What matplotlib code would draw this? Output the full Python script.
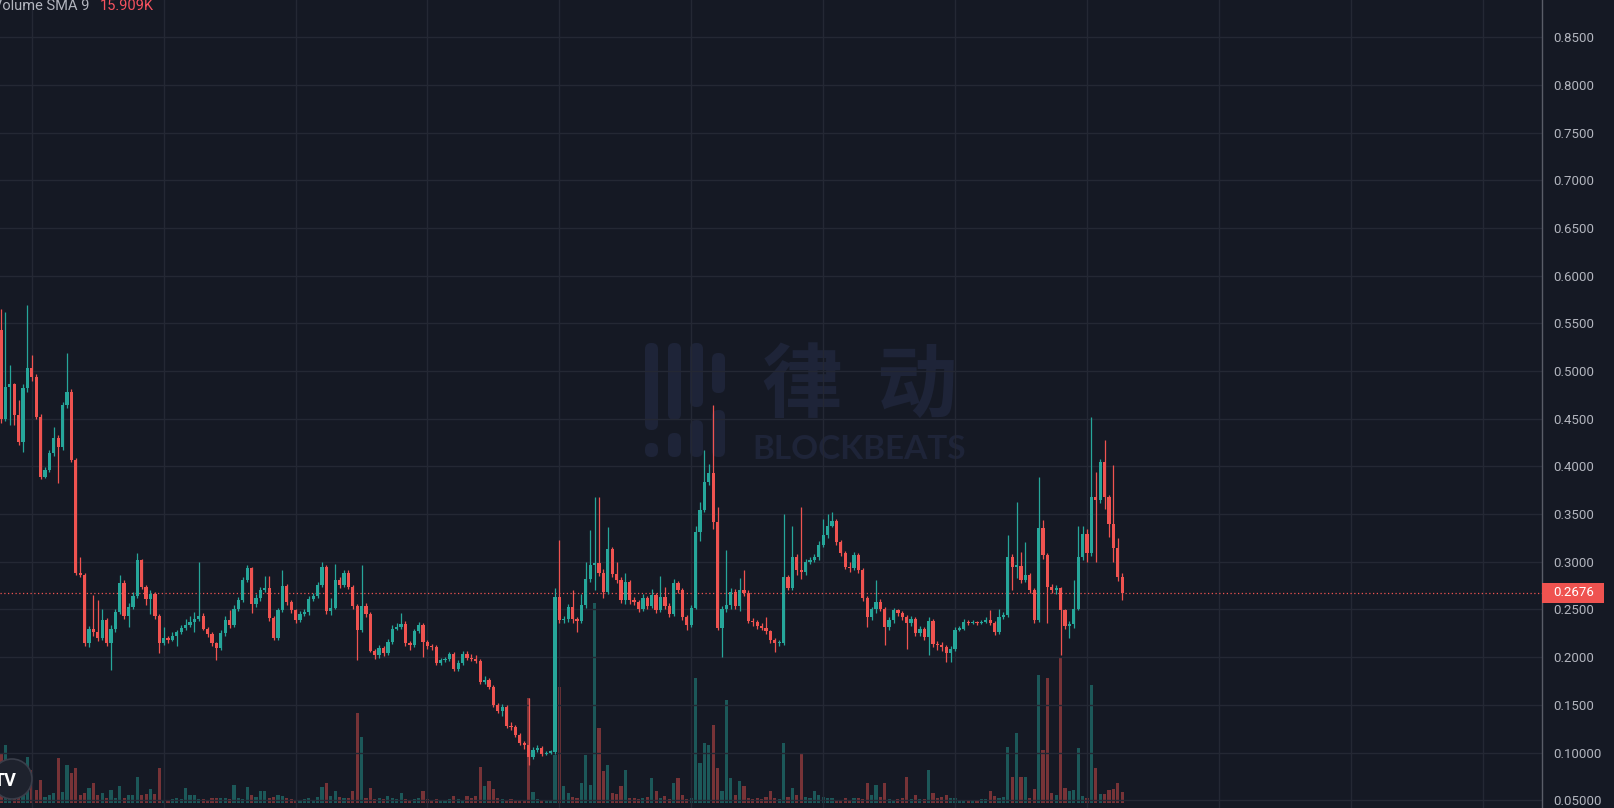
import matplotlib
matplotlib.use("Agg")
import matplotlib.pyplot as plt
from matplotlib.patches import Rectangle, FancyBboxPatch, Circle
from matplotlib.transforms import IdentityTransform
import numpy as np

# candle closes, one per bar (open = previous close)
first_open = 0.543
closes = [
    0.450, 0.483, 0.486, 0.454, 0.426, 0.482, 0.503, 0.494, 0.452, 0.389,
    0.396, 0.414, 0.430, 0.420, 0.464, 0.478, 0.407, 0.288, 0.286, 0.215,
    0.230, 0.226, 0.220, 0.239, 0.215, 0.230, 0.247, 0.278, 0.243, 0.253,
    0.264, 0.302, 0.274, 0.261, 0.266, 0.243, 0.215, 0.220, 0.218, 0.222,
    0.226, 0.231, 0.234, 0.237, 0.240, 0.243, 0.230, 0.224, 0.215, 0.210,
    0.225, 0.239, 0.234, 0.250, 0.260, 0.281, 0.293, 0.256, 0.262, 0.270,
    0.273, 0.241, 0.220, 0.249, 0.275, 0.258, 0.249, 0.239, 0.245, 0.247,
    0.261, 0.264, 0.276, 0.295, 0.248, 0.252, 0.281, 0.276, 0.288, 0.274,
    0.254, 0.229, 0.254, 0.245, 0.207, 0.202, 0.210, 0.204, 0.216, 0.230,
    0.232, 0.235, 0.215, 0.213, 0.227, 0.234, 0.216, 0.212, 0.211, 0.194,
    0.197, 0.198, 0.203, 0.188, 0.194, 0.203, 0.199, 0.198, 0.196, 0.174,
    0.176, 0.169, 0.150, 0.144, 0.148, 0.128, 0.127, 0.118, 0.110, 0.108,
    0.095, 0.103, 0.105, 0.098, 0.100, 0.101, 0.263, 0.239, 0.240, 0.253,
    0.240, 0.238, 0.255, 0.282, 0.297, 0.299, 0.288, 0.268, 0.313, 0.287,
    0.281, 0.260, 0.279, 0.260, 0.258, 0.250, 0.262, 0.254, 0.265, 0.249,
    0.263, 0.254, 0.245, 0.278, 0.270, 0.242, 0.234, 0.252, 0.331, 0.354,
    0.384, 0.393, 0.342, 0.231, 0.250, 0.255, 0.268, 0.254, 0.270, 0.267,
    0.238, 0.237, 0.233, 0.231, 0.227, 0.218, 0.215, 0.215, 0.284, 0.273,
    0.305, 0.291, 0.289, 0.300, 0.302, 0.305, 0.318, 0.328, 0.338, 0.343,
    0.321, 0.309, 0.295, 0.293, 0.307, 0.291, 0.262, 0.242, 0.250, 0.258,
    0.251, 0.232, 0.239, 0.249, 0.246, 0.242, 0.236, 0.240, 0.225, 0.230,
    0.221, 0.238, 0.214, 0.213, 0.211, 0.204, 0.209, 0.229, 0.230, 0.237,
    0.236, 0.237, 0.236, 0.237, 0.239, 0.236, 0.226, 0.242, 0.244, 0.305,
    0.295, 0.296, 0.281, 0.286, 0.270, 0.239, 0.335, 0.307, 0.274, 0.270,
    0.272, 0.249, 0.233, 0.235, 0.251, 0.305, 0.329, 0.309, 0.368, 0.365,
    0.405, 0.368, 0.340, 0.314, 0.284, 0.2676,
]
highs = [
    0.565, 0.562, 0.506, 0.487, 0.470, 0.486, 0.569, 0.517, 0.497, 0.455,
    0.399, 0.417, 0.441, 0.433, 0.468, 0.519, 0.481, 0.409, 0.305, 0.288,
    0.233, 0.265, 0.260, 0.250, 0.241, 0.234, 0.250, 0.286, 0.281, 0.257,
    0.268, 0.309, 0.303, 0.276, 0.270, 0.268, 0.245, 0.232, 0.222, 0.226,
    0.229, 0.234, 0.240, 0.243, 0.247, 0.300, 0.246, 0.232, 0.226, 0.216,
    0.228, 0.243, 0.249, 0.255, 0.263, 0.284, 0.297, 0.295, 0.266, 0.274,
    0.285, 0.285, 0.243, 0.252, 0.291, 0.277, 0.260, 0.251, 0.248, 0.250,
    0.264, 0.267, 0.279, 0.300, 0.297, 0.262, 0.298, 0.284, 0.291, 0.291,
    0.276, 0.256, 0.297, 0.257, 0.247, 0.209, 0.213, 0.212, 0.219, 0.234,
    0.236, 0.246, 0.238, 0.217, 0.230, 0.237, 0.236, 0.218, 0.214, 0.213,
    0.199, 0.200, 0.205, 0.205, 0.197, 0.206, 0.206, 0.203, 0.202, 0.198,
    0.180, 0.178, 0.171, 0.152, 0.151, 0.150, 0.132, 0.129, 0.120, 0.112,
    0.157, 0.106, 0.108, 0.107, 0.102, 0.103, 0.273, 0.323, 0.243, 0.256,
    0.270, 0.242, 0.266, 0.300, 0.333, 0.368, 0.368, 0.292, 0.336, 0.315,
    0.300, 0.284, 0.288, 0.281, 0.263, 0.260, 0.266, 0.264, 0.271, 0.267,
    0.285, 0.274, 0.257, 0.282, 0.280, 0.272, 0.244, 0.255, 0.338, 0.363,
    0.417, 0.403, 0.464, 0.357, 0.254, 0.312, 0.272, 0.271, 0.283, 0.291,
    0.270, 0.241, 0.239, 0.236, 0.242, 0.229, 0.220, 0.218, 0.350, 0.286,
    0.337, 0.308, 0.357, 0.303, 0.305, 0.308, 0.322, 0.345, 0.350, 0.352,
    0.345, 0.323, 0.311, 0.300, 0.310, 0.309, 0.293, 0.264, 0.253, 0.281,
    0.261, 0.253, 0.242, 0.252, 0.251, 0.248, 0.244, 0.243, 0.242, 0.233,
    0.232, 0.242, 0.240, 0.217, 0.216, 0.213, 0.212, 0.232, 0.233, 0.240,
    0.239, 0.239, 0.238, 0.239, 0.242, 0.249, 0.238, 0.251, 0.247, 0.328,
    0.308, 0.363, 0.310, 0.321, 0.288, 0.272, 0.389, 0.344, 0.309, 0.277,
    0.276, 0.274, 0.251, 0.238, 0.281, 0.337, 0.337, 0.334, 0.452, 0.394,
    0.408, 0.428, 0.370, 0.401, 0.325, 0.288,
]
lows = [
    0.445, 0.448, 0.443, 0.443, 0.422, 0.415, 0.478, 0.490, 0.450, 0.387,
    0.388, 0.394, 0.411, 0.383, 0.417, 0.461, 0.405, 0.286, 0.284, 0.212,
    0.211, 0.222, 0.217, 0.218, 0.212, 0.187, 0.226, 0.245, 0.240, 0.232,
    0.250, 0.262, 0.271, 0.255, 0.245, 0.240, 0.204, 0.213, 0.215, 0.217,
    0.212, 0.224, 0.229, 0.232, 0.226, 0.238, 0.228, 0.221, 0.212, 0.197,
    0.208, 0.222, 0.231, 0.232, 0.248, 0.258, 0.279, 0.246, 0.253, 0.259,
    0.268, 0.238, 0.218, 0.218, 0.247, 0.255, 0.246, 0.236, 0.237, 0.243,
    0.244, 0.259, 0.262, 0.274, 0.245, 0.244, 0.250, 0.273, 0.274, 0.271,
    0.251, 0.197, 0.226, 0.242, 0.205, 0.198, 0.199, 0.201, 0.202, 0.214,
    0.228, 0.230, 0.212, 0.208, 0.211, 0.225, 0.200, 0.209, 0.208, 0.192,
    0.192, 0.195, 0.196, 0.185, 0.186, 0.192, 0.197, 0.196, 0.194, 0.172,
    0.172, 0.167, 0.148, 0.142, 0.138, 0.126, 0.124, 0.116, 0.108, 0.104,
    0.087, 0.093, 0.101, 0.096, 0.097, 0.099, 0.099, 0.236, 0.236, 0.237,
    0.236, 0.226, 0.236, 0.252, 0.279, 0.270, 0.285, 0.262, 0.266, 0.284,
    0.278, 0.257, 0.256, 0.256, 0.255, 0.247, 0.248, 0.251, 0.252, 0.246,
    0.247, 0.251, 0.242, 0.243, 0.267, 0.239, 0.228, 0.232, 0.250, 0.322,
    0.352, 0.380, 0.334, 0.229, 0.200, 0.247, 0.250, 0.250, 0.248, 0.264,
    0.236, 0.233, 0.230, 0.228, 0.224, 0.215, 0.205, 0.212, 0.213, 0.270,
    0.270, 0.286, 0.282, 0.286, 0.298, 0.300, 0.302, 0.315, 0.325, 0.336,
    0.318, 0.306, 0.292, 0.289, 0.291, 0.288, 0.259, 0.232, 0.239, 0.246,
    0.248, 0.213, 0.229, 0.236, 0.243, 0.239, 0.209, 0.233, 0.222, 0.222,
    0.218, 0.202, 0.211, 0.208, 0.207, 0.195, 0.195, 0.207, 0.227, 0.228,
    0.234, 0.235, 0.234, 0.235, 0.236, 0.234, 0.223, 0.224, 0.240, 0.242,
    0.270, 0.283, 0.278, 0.279, 0.267, 0.236, 0.237, 0.303, 0.236, 0.267,
    0.266, 0.202, 0.230, 0.220, 0.231, 0.249, 0.302, 0.300, 0.306, 0.300,
    0.362, 0.355, 0.326, 0.300, 0.280, 0.260,
]
# volume per bar (thousands, chart scale)
volumes = [
    50, 58, 20, 13, 16, 23, 46, 33, 13, 23, 6, 8, 10, 45, 11, 38, 30, 35, 8, 10,
    15, 20, 8, 10, 5, 13, 5, 17, 5, 8, 8, 26, 8, 9, 14, 9, 35, 3, 3, 4,
    5, 4, 15, 8, 8, 4, 4, 3, 5, 5, 5, 5, 4, 18, 5, 4, 16, 8, 6, 12,
    12, 5, 6, 8, 7, 5, 4, 3, 3, 4, 5, 3, 6, 16, 20, 7, 12, 6, 5, 5,
    12, 90, 66, 5, 15, 4, 5, 4, 7, 5, 4, 10, 4, 3, 4, 5, 12, 4, 3, 4,
    3, 3, 4, 7, 4, 3, 7, 5, 7, 36, 17, 22, 14, 5, 4, 3, 4, 3, 3, 3,
    105, 11, 4, 3, 3, 3, 48, 116, 17, 10, 6, 5, 20, 48, 18, 200, 75, 32, 38, 10,
    9, 17, 33, 5, 5, 4, 5, 6, 25, 12, 5, 7, 4, 20, 25, 8, 4, 5, 125, 40,
    60, 58, 78, 35, 12, 103, 25, 8, 22, 17, 5, 4, 5, 4, 6, 12, 5, 4, 60, 6,
    15, 8, 50, 6, 5, 12, 8, 6, 5, 5, 3, 3, 5, 3, 5, 5, 4, 20, 8, 18,
    6, 20, 4, 3, 4, 5, 26, 4, 8, 4, 4, 33, 10, 5, 6, 8, 5, 5, 3, 3,
    3, 3, 3, 4, 4, 12, 7, 5, 6, 56, 26, 70, 26, 26, 5, 14, 128, 53, 125, 10,
    8, 145, 15, 12, 13, 55, 7, 5, 118, 35, 9, 9, 13, 14, 20, 11,
]
price_ticks = [0.05, 0.10, 0.15, 0.20, 0.25, 0.30, 0.35, 0.40, 0.45,
               0.50, 0.55, 0.60, 0.65, 0.70, 0.75, 0.80, 0.85]
price_labels = ["0.05000", "0.10000", "0.1500", "0.2000", "0.2500", "0.3000",
                "0.3500", "0.4000", "0.4500", "0.5000", "0.5500", "0.6000",
                "0.6500", "0.7000", "0.7500", "0.8000", "0.8500"]
time_grid = [7, 37, 67, 97, 127, 157, 187, 217, 247, 277, 307, 337]
last_price = 0.2676

BG = "#151924"
GRID = "#242834"
UP = "#26a69a"
DOWN = "#ef5350"
TXT = "#b2b5be"
MARK = "#1e2438"

W, H = 1614, 808
plt.rcParams["font.family"] = ["Roboto", "Noto Sans CJK SC", "DejaVu Sans"]

fig = plt.figure(figsize=(W / 100, H / 100), dpi=100, facecolor=BG)
rect = [0, 0, 1542 / W, 1]

opens = [first_open] + closes[:-1]
idx = np.arange(len(closes))
o = np.array(opens)
c = np.array(closes)
up = c >= o
cols = np.where(up, UP, DOWN)

# watermark logo, drawn under everything
bars = [(645, 343, 430), (645, 443, 457), (668, 343, 420), (668, 433, 457),
        (690, 343, 407), (690, 420, 457), (712, 353, 393), (712, 410, 457)]
for x0, t, b in bars:
    p = FancyBboxPatch((x0 + 6, H - b + 6), 1, b - t - 12,
                       boxstyle="round,pad=6", transform=IdentityTransform(),
                       facecolor=MARK, edgecolor="none", zorder=-5)
    fig.patches.append(p)
for ch, cx in [("律", 802), ("动", 916)]:
    fig.text(cx / W, 1 - 387 / H, ch, color=MARK, fontsize=58,
             family=["Noto Sans CJK SC"], weight="bold",
             ha="center", va="center", zorder=-5)
fig.text(859 / W, 1 - 449 / H, "BLOCKBEATS", color=MARK, fontsize=24,
         family=["Lato"], weight="bold", ha="center", va="center", zorder=-5)

# volume pane
axv = fig.add_axes(rect, zorder=1)
axv.patch.set_visible(False)
axv.bar(idx, volumes, width=0.72, color=cols, alpha=0.45, linewidth=0)
axv.set_ylim(-5, H - 5)
axv.set_xlim(-0.23, 350.5)
axv.axis("off")

# price pane
ax = fig.add_axes(rect, zorder=2)
ax.patch.set_visible(False)
ax.set_xlim(-0.23, 350.5)
ax.set_ylim(0.0419, 0.8889)

for t in price_ticks:
    ax.axhline(t, color=GRID, lw=1.0, zorder=0)
for g in time_grid:
    ax.axvline(g, color=GRID, lw=1.0, zorder=0)

lo = np.minimum(np.array(lows), np.minimum(o, c))
hi = np.maximum(np.array(highs), np.maximum(o, c))
ax.vlines(idx, lo, hi, colors=cols, lw=0.9, zorder=3)
body = np.maximum(np.abs(c - o), 0.0012)
ax.bar(idx, body, bottom=np.minimum(o, c), width=0.74, color=cols,
       linewidth=0, zorder=4)

ax.axhline(last_price, color=DOWN, lw=0.9, ls=(0, (1, 2)), zorder=2)

ax.set_xticks([])
ax.yaxis.tick_right()
ax.set_yticks(price_ticks)
ax.set_yticklabels(price_labels)
ax.tick_params(axis="y", length=0, pad=8, labelcolor=TXT, labelsize=9.5)
for s in ["top", "left", "bottom"]:
    ax.spines[s].set_visible(False)
ax.spines["right"].set_color("#5a5d68")
ax.spines["right"].set_linewidth(1.0)

# last price tag on the axis
fig.patches.append(Rectangle((1542 / W, 1 - 603 / H), 62 / W, 20 / H,
                             transform=fig.transFigure, facecolor=DOWN,
                             edgecolor="none", zorder=5))
fig.text(1553 / W, 1 - 593 / H, "%.4f" % last_price, color="white",
         fontsize=9.5, va="center", ha="left", zorder=6)

# legend header (cut at the top edge, as in the source)
fig.text(-7 / W, 1 - 10 / H, "Volume SMA 9", color=TXT, fontsize=10.5,
         va="baseline", ha="left")
fig.text(100 / W, 1 - 10 / H, "15.909K", color="#f7525f", fontsize=10.5,
         va="baseline", ha="left")

# TV badge bottom-left
fig.patches.append(Circle((12, H - 779), 20, transform=IdentityTransform(),
                          facecolor="#1e222d", edgecolor="#3a3e4a", lw=1.2, zorder=7))
fig.text(5 / W, 1 - 781 / H, "TV", color="white", fontsize=13,
         weight="bold", ha="center", va="center", zorder=8)

fig.savefig("out.png", dpi=100, facecolor=BG)
